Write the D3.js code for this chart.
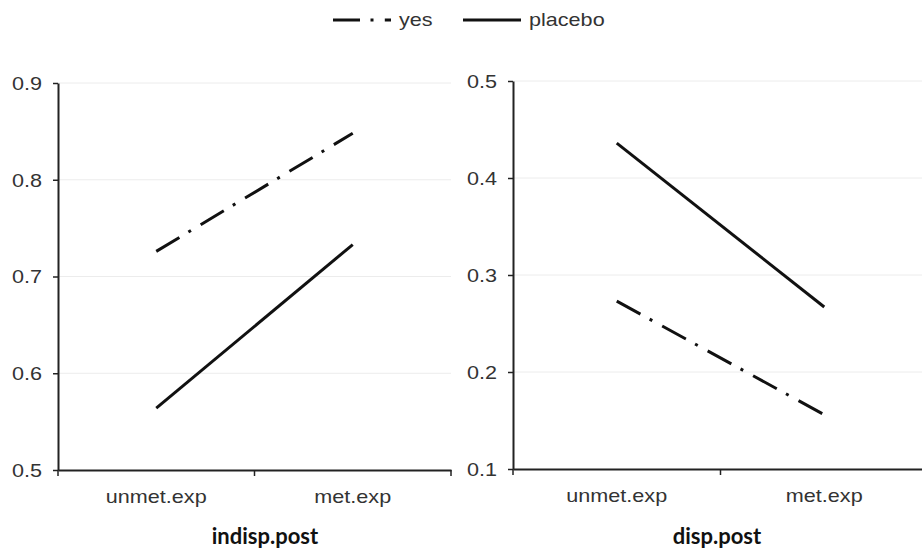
<!DOCTYPE html>
<html lang="en">
    <head>
        <meta charset="utf-8">
        <title>indisp / disp</title>
        <script src="https://d3js.org/d3.v7.min.js"></script>
        <style>
            body { margin: 0; background: #fff; }
            text { font-family: "Liberation Sans", Arial, sans-serif; fill: #333; }
        </style>
    </head>

    <body>
        <div id="vis"></div>

        <script>
            // data
            const categories = ["unmet.exp", "met.exp"];
            const panelTitles = ["indisp.post", "disp.post"];
            const seriesNames = ["yes", "placebo"];

            const yesIndisp = [0.726, 0.848];
            const placeboIndisp = [0.564, 0.733];
            const yesDisp = [0.273, 0.156];
            const placeboDisp = [0.436, 0.267];

            const indispTicks = [0.5, 0.6, 0.7, 0.8, 0.9];
            const dispTicks = [0.1, 0.2, 0.3, 0.4, 0.5];

            const width = 922;
            const height = 557;
            const dashDot = "27,10.5,3,11.3";
            const stretch = "scale(1.2,1)";   // the original text is drawn a bit wide

            const svg = d3.select("#vis")
                .append("svg")
                .attr("width", width)
                .attr("height", height);

            const panels = [
                { title: panelTitles[0], yes: yesIndisp, placebo: placeboIndisp, ticks: indispTicks,
                  x0: 58, x1: 451, yTop: 83, yBottom: 470, titleX: 265 },
                { title: panelTitles[1], yes: yesDisp, placebo: placeboDisp, ticks: dispTicks,
                  x0: 513, x1: 928, yTop: 81, yBottom: 469, titleX: 717 }
            ];

            function drawPanel(p) {
                const g = svg.append("g");

                const x = d3.scaleBand()
                    .domain(categories)
                    .range([p.x0, p.x1])
                    .padding(0);

                const y = d3.scaleLinear()
                    .domain([p.ticks[0], p.ticks[p.ticks.length - 1]])
                    .range([p.yBottom, p.yTop]);

                // grid
                g.append("g")
                    .selectAll("line")
                    .data(p.ticks.slice(1))
                    .join("line")
                    .attr("x1", p.x0)
                    .attr("x2", p.x1)
                    .attr("y1", d => y(d))
                    .attr("y2", d => y(d))
                    .attr("stroke", "#ececec")
                    .attr("stroke-width", 1);

                // y axis
                const yAxis = g.append("g")
                    .attr("transform", `translate(${p.x0},0)`)
                    .call(d3.axisLeft(y).tickValues(p.ticks).tickFormat(d3.format(".1f")).tickSize(5).tickSizeOuter(0));
                yAxis.select(".domain").attr("stroke", "#222").attr("stroke-width", 2);
                yAxis.selectAll(".tick line").attr("stroke", "#222").attr("stroke-width", 1.5);
                yAxis.selectAll("text")
                    .attr("x", -13.3)
                    .attr("dy", "0.35em")
                    .attr("transform", stretch)
                    .style("font-size", "18px")
                    .style("fill", "#333");

                // x axis: labels at band centres, ticks on band edges
                const xAxis = g.append("g")
                    .attr("transform", `translate(0,${p.yBottom})`)
                    .call(d3.axisBottom(x).tickSize(0).tickPadding(20));
                xAxis.select(".domain").attr("stroke", "#222").attr("stroke-width", 2);
                xAxis.selectAll("text")
                    .attr("transform", stretch)
                    .style("font-size", "18px")
                    .style("fill", "#333");

                const edges = categories.map(c => x(c)).concat([x.range()[1]]);
                xAxis.append("g")
                    .selectAll("line")
                    .data(edges)
                    .join("line")
                    .attr("x1", d => d)
                    .attr("x2", d => d)
                    .attr("y1", 0)
                    .attr("y2", 6)
                    .attr("stroke", "#222")
                    .attr("stroke-width", 1.5);

                // lines
                const line = d3.line()
                    .x((d, i) => x(categories[i]) + x.bandwidth() / 2)
                    .y(d => y(d));

                g.append("path")
                    .datum(p.yes)
                    .attr("d", line)
                    .attr("fill", "none")
                    .attr("stroke", "#111")
                    .attr("stroke-width", 3)
                    .attr("stroke-dasharray", dashDot);

                g.append("path")
                    .datum(p.placebo)
                    .attr("d", line)
                    .attr("fill", "none")
                    .attr("stroke", "#111")
                    .attr("stroke-width", 3);

                // panel title
                g.append("text")
                    .attr("x", p.titleX)
                    .attr("y", 544)
                    .attr("text-anchor", "middle")
                    .style("font-family", "Lato, 'Open Sans', sans-serif")
                    .style("font-weight", "bold")
                    .style("font-size", "22px")
                    .style("fill", "#111")
                    .text(p.title);
            }

            panels.forEach(drawPanel);

            // legend
            const legend = svg.append("g");
            const legendItems = [
                { name: seriesNames[0], x: 333, dash: dashDot },
                { name: seriesNames[1], x: 463, dash: null }
            ];
            legendItems.forEach(function(item) {
                legend.append("line")
                    .attr("x1", item.x)
                    .attr("x2", item.x + 58)
                    .attr("y1", 20)
                    .attr("y2", 20)
                    .attr("stroke", "#111")
                    .attr("stroke-width", 3)
                    .attr("stroke-dasharray", item.dash);
                legend.append("text")
                    .attr("transform", `translate(${item.x + 66},26) ${stretch}`)
                    .style("font-size", "18px")
                    .text(item.name);
            });
        </script>
    </body>
</html>
